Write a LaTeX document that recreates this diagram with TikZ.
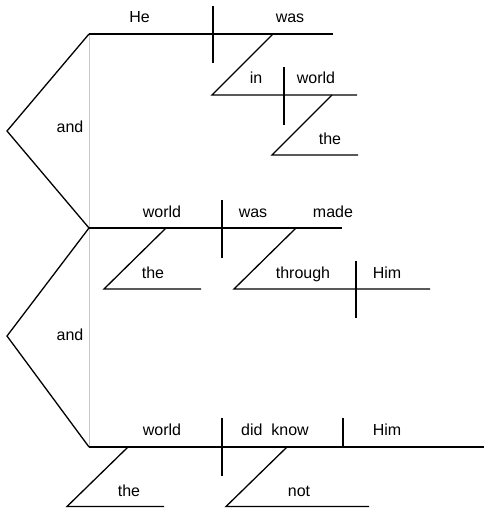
\documentclass[tikz,border=0pt]{standalone}
\usepackage{fontspec}
\setmainfont{Liberation Sans}
\begin{document}
\begin{tikzpicture}[x=1pt,y=-1pt,
  ln/.style={line width=1.3pt,black},
  gl/.style={line width=0.9pt,black!22},
  wd/.style={anchor=base,inner sep=0pt,font=\fontsize{16}{19}\selectfont}]
\useasboundingbox (0,0) rectangle (484,508);
% conjunction platform
\coordinate (c1) at (89,34);
\coordinate (c2) at (89,228);
\coordinate (c3) at (89,447);
\coordinate (k1) at (7,131);
\coordinate (k2) at (7,336);
\draw[gl] (c1) -- (c3);
\draw[ln] (c1) -- (k1) -- (c2) -- (k2) -- (c3);
\node[wd] (and1) at (70,132) {and};
\node[wd] (and2) at (70,340) {and};
% clause 1
\coordinate (b1e) at (333,34);
\coordinate (d1t) at (213,6);
\coordinate (d1b) at (213,63);
\draw[ln] (c1) -- (b1e);
\draw[ln] (d1t) -- (d1b);
\node[wd] (he) at (139.5,23) {He};
\node[wd] (was1) at (290,23) {was};
\coordinate (s1a) at (273,34);
\coordinate (s1b) at (212,95);
\coordinate (s1c) at (357,95);
\draw[ln] (s1a) -- (s1b) -- (s1c);
\node[wd] (in) at (256,84) {in};
\node[wd] (world1) at (316,84) {world};
\coordinate (d2t) at (284,67);
\coordinate (d2b) at (284,125);
\draw[ln] (d2t) -- (d2b);
\coordinate (s2a) at (332,95);
\coordinate (s2b) at (272,155);
\coordinate (s2c) at (358,155);
\draw[ln] (s2a) -- (s2b) -- (s2c);
\node[wd] (the1) at (330,144) {the};
% clause 2
\coordinate (b2e) at (342,228);
\draw[ln] (c2) -- (b2e);
\coordinate (d3t) at (222,200);
\coordinate (d3b) at (222,258);
\draw[ln] (d3t) -- (d3b);
\node[wd] (world2) at (162,217) {world};
\node[wd] (was2) at (253,217) {was};
\node[wd] (made) at (333,217) {made};
\coordinate (s3a) at (166,228);
\coordinate (s3b) at (104,289);
\coordinate (s3c) at (201,289);
\draw[ln] (s3a) -- (s3b) -- (s3c);
\node[wd] (the2) at (153,278) {the};
\coordinate (s4a) at (296,228);
\coordinate (s4b) at (234,289);
\coordinate (s4c) at (430,289);
\draw[ln] (s4a) -- (s4b) -- (s4c);
\node[wd] (through) at (303,278) {through};
\node[wd] (him1) at (387,278) {Him};
\coordinate (d4t) at (356,261);
\coordinate (d4b) at (356,318);
\draw[ln] (d4t) -- (d4b);
% clause 3
\coordinate (b3e) at (484,447);
\draw[ln] (c3) -- (b3e);
\coordinate (d5t) at (222,418);
\coordinate (d5b) at (222,476);
\draw[ln] (d5t) -- (d5b);
\coordinate (d6t) at (343,418);
\coordinate (d6b) at (343,447);
\draw[ln] (d6t) -- (d6b);
\node[wd] (world3) at (162,435) {world};
\node[wd] (didknow) at (275,435) {did\ \ know};
\node[wd] (him2) at (387,435) {Him};
\coordinate (s5a) at (128,447);
\coordinate (s5b) at (67,506.5);
\coordinate (s5c) at (164,506.5);
\draw[ln] (s5a) -- (s5b) -- (s5c);
\node[wd] (the3) at (129,496) {the};
\coordinate (s6a) at (287,447);
\coordinate (s6b) at (226,506.5);
\coordinate (s6c) at (369,506.5);
\draw[ln] (s6a) -- (s6b) -- (s6c);
\node[wd] (not) at (299,496) {not};
\end{tikzpicture}
\end{document}
